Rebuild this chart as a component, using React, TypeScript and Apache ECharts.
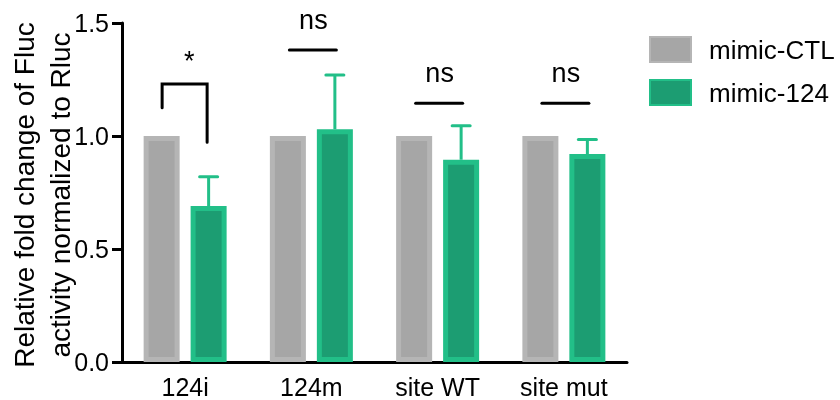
import React, { useEffect, useRef } from "react";
import * as echarts from "echarts";

const categories = ["124i", "124m", "site WT", "site mut"];
const ctlValues = [1.0, 1.0, 1.0, 1.0];
const mimicValues = [0.69, 1.03, 0.895, 0.92];
const mimicErrorTop = [0.82, 1.27, 1.045, 0.985];
const sigLabels = ["*", "ns", "ns", "ns"];
const sigLineY = [1.23, 1.38, 1.145, 1.145];
const sigLabelY = [1.36, 1.515, 1.28, 1.28];
// bracket legs (only for first group): [left leg bottom, right leg bottom]
const bracketLegs = [[1.125, 0.972], null, null, null];

const FONT = "Liberation Sans, Arial, sans-serif";
const GREY_BORDER = "#b5b5b5";
const GREY_FILL = "#a6a6a6";
const GREEN_BORDER = "#22bf88";
const GREEN_FILL = "#1c9d72";
const BAR_W = 36;
const BAR_BORDER = 5;
const HALF_OFFSET = 23.5;

export default function App() {
  const ref = useRef<HTMLDivElement>(null);
  useEffect(() => {
    const chart = echarts.init(ref.current!, null, { renderer: "svg" });
    const option: any = {
      animation: false,
      textStyle: { fontFamily: FONT },
      grid: { left: 122, right: 213, top: 23, bottom: 38 },
      legend: {
        left: 649,
        top: 36,
        padding: 0,
        orient: "vertical",
        itemWidth: 41,
        itemHeight: 25,
        itemGap: 16,
        icon: "rect",
        textStyle: { fontSize: 26, color: "#000", fontFamily: FONT, padding: [0, 0, 0, 13] },
        data: ["mimic-CTL", "mimic-124"],
      },
      graphic: [
        {
          type: "text",
          x: 42,
          y: 195,
          rotation: Math.PI / 2,
          style: {
            text: "Relative fold change of Fluc\nactivity normalized to Rluc",
            fontSize: 28,
            lineHeight: 36,
            fontFamily: FONT,
            fill: "#000",
            textAlign: "center",
            textVerticalAlign: "middle",
          },
        },
      ],
      xAxis: {
        type: "category",
        data: categories,
        axisLine: { lineStyle: { color: "#000", width: 3 } },
        axisTick: { alignWithLabel: true, length: 8, lineStyle: { color: "#000", width: 3 } },
        axisLabel: { fontSize: 25, color: "#000", margin: 12, fontFamily: FONT },
      },
      yAxis: {
        type: "value",
        min: 0,
        max: 1.5,
        interval: 0.5,
        splitLine: { show: false },
        axisLine: { show: true, lineStyle: { color: "#000", width: 3 } },
        axisTick: { show: true, length: 10, lineStyle: { color: "#000", width: 3 } },
        axisLabel: {
          fontSize: 25,
          color: "#000",
          margin: 13,
          fontFamily: FONT,
          formatter: (v: number) => v.toFixed(1),
        },
      },
      series: [
        {
          name: "mimic-CTL",
          type: "bar",
          data: ctlValues,
          barWidth: BAR_W,
          barGap: "30.5%",
          itemStyle: { color: GREY_FILL, borderColor: GREY_BORDER, borderWidth: BAR_BORDER },
          z: 2,
        },
        {
          name: "mimic-124",
          type: "bar",
          data: mimicValues,
          barWidth: BAR_W,
          barGap: "30.5%",
          itemStyle: { color: GREEN_FILL, borderColor: GREEN_BORDER, borderWidth: BAR_BORDER },
          z: 2,
        },
        {
          name: "err",
          type: "custom",
          clip: false,
          z: 1,
          data: mimicValues.map((v, i) => [i, v, mimicErrorTop[i]]),
          renderItem: (params: any, api: any) => {
            const lo = api.coord([api.value(0), api.value(1)]);
            const hi = api.coord([api.value(0), api.value(2)]);
            const x = lo[0] + HALF_OFFSET;
            return {
              type: "group",
              children: [
                { type: "line", shape: { x1: x, y1: lo[1], x2: x, y2: hi[1] }, style: { stroke: GREEN_BORDER, lineWidth: 3 } },
                { type: "line", shape: { x1: x - 9, y1: hi[1], x2: x + 9, y2: hi[1] }, style: { stroke: GREEN_BORDER, lineWidth: 3, lineCap: "round" } },
              ],
            };
          },
        },
        {
          name: "sig",
          type: "custom",
          clip: false,
          z: 3,
          data: sigLineY.map((v, i) => [i, v, sigLabelY[i]]),
          renderItem: (params: any, api: any) => {
            const i = params.dataIndex;
            const top = api.coord([api.value(0), api.value(1)]);
            const lab = api.coord([api.value(0), api.value(2)]);
            const cx = top[0];
            const legs = bracketLegs[i];
            const children: any[] = [];
            if (legs) {
              const l = api.coord([i, legs[0]]);
              const r = api.coord([i, legs[1]]);
              children.push({
                type: "polyline",
                shape: { points: [[cx - 23, l[1]], [cx - 23, top[1]], [cx + 22, top[1]], [cx + 22, r[1]]] },
                style: { stroke: "#000", lineWidth: 3, fill: null, lineCap: "round" },
              });
            } else {
              children.push({
                type: "line",
                shape: { x1: cx - 22, y1: top[1], x2: cx + 25, y2: top[1] },
                style: { stroke: "#000", lineWidth: 3, lineCap: "round" },
              });
            }
            children.push({
              type: "text",
              x: cx + (legs ? 4 : 2),
              y: lab[1] + (legs ? 6 : 0),
              style: {
                text: sigLabels[i],
                fontSize: 27,
                fontFamily: FONT,
                fill: "#000",
                textAlign: "center",
                textVerticalAlign: "middle",
              },
            });
            return { type: "group", children };
          },
        },
      ],
    };
    chart.setOption(option);
    return () => chart.dispose();
  }, []);
  return <div ref={ref} style={{ position: "fixed", left: 0, top: 0, width: 840, height: 400 }} />;
}
